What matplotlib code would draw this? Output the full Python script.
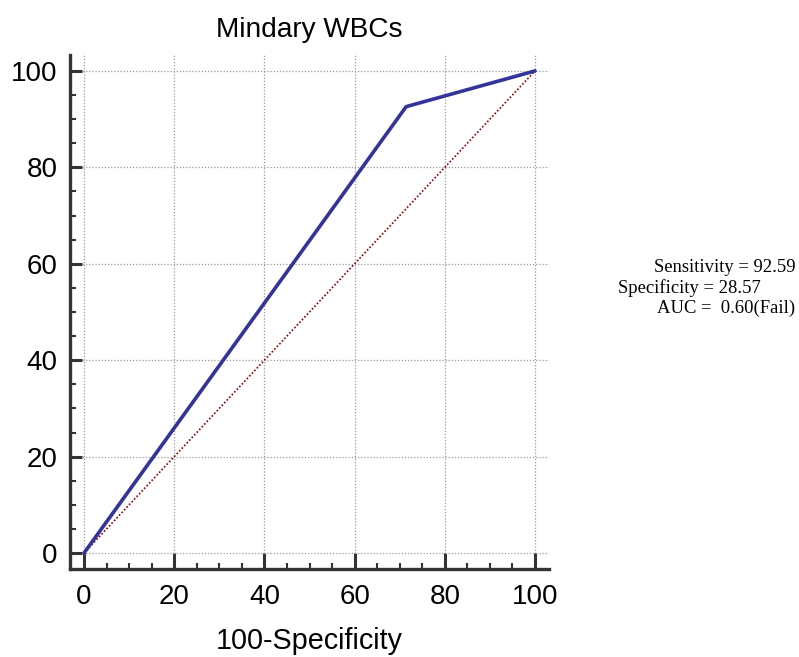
import matplotlib
matplotlib.use("Agg")
import matplotlib.pyplot as plt
from matplotlib.ticker import MultipleLocator

# ROC points (100-Specificity, Sensitivity)
fpr = [0, 71.43, 100]
tpr = [0, 92.59, 100]
diag = [0, 100]

title = "Mindary WBCs"
xlabel = "100-Specificity"
stats = ["Sensitivity = 92.59", "Specificity = 28.57", "AUC =  0.60(Fail)"]

plt.rcParams["font.family"] = ["Liberation Sans", "DejaVu Sans"]

W, H = 799, 657
fig = plt.figure(figsize=(W / 100, H / 100), dpi=100)
ax = fig.add_axes([70 / W, (H - 569) / H, (549 - 70) / W, (569 - 55) / H])

ax.plot(diag, diag, color="#8b0000", lw=1.2, ls=(0, (1, 1.2)), zorder=2)
ax.plot(fpr, tpr, color="#333399", lw=2.6, zorder=3, solid_capstyle="round")

ax.set_xlim(-3.1, 103.1)
ax.set_ylim(-3.3, 103.3)
ax.xaxis.set_major_locator(MultipleLocator(20))
ax.yaxis.set_major_locator(MultipleLocator(20))
ax.xaxis.set_minor_locator(MultipleLocator(5))
ax.yaxis.set_minor_locator(MultipleLocator(5))
ax.grid(True, which="major", color="#999999", ls=(0, (1, 1.5)), lw=0.9)

for s in ["top", "right"]:
    ax.spines[s].set_visible(False)
for s in ["left", "bottom"]:
    ax.spines[s].set_color("#333333")
    ax.spines[s].set_linewidth(2.4)

ax.tick_params(which="both", direction="in", color="#333333", labelsize=20)
ax.tick_params(axis="x", which="major", length=11.5, width=2.2, pad=11)
ax.tick_params(axis="y", which="major", length=8.6, width=2.2, pad=9)
ax.tick_params(which="minor", length=4.3, width=1.5)

ax.set_title(title, fontsize=20.2, pad=13)
ax.set_xlabel(xlabel, fontsize=20.7, labelpad=12)

fig.text(795 / W, 1 - 268 / H, stats[0], family="Liberation Serif", fontsize=13.4, ha="right", va="center")
fig.text(618 / W, 1 - 288 / H, stats[1], family="Liberation Serif", fontsize=13.4, ha="left", va="center")
fig.text(795 / W, 1 - 308 / H, stats[2], family="Liberation Serif", fontsize=13.4, ha="right", va="center")

fig.savefig("out.png", dpi=100)
